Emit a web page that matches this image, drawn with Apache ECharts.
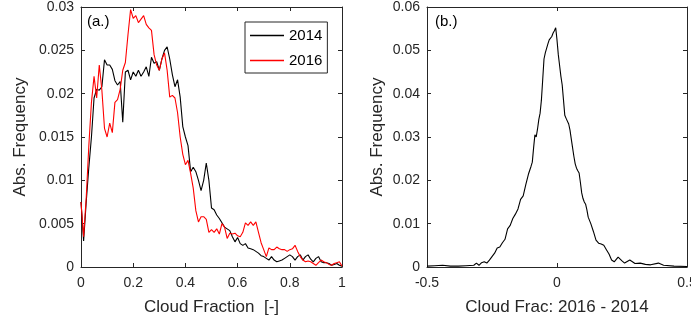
<!DOCTYPE html>
<html>
<head>
<meta charset="utf-8">
<script src="https://cdn.jsdelivr.net/npm/echarts@6/dist/echarts.min.js"></script>
<style>
  html, body { margin: 0; padding: 0; background: #fff; }
  #chart { width: 691px; height: 324px; }
</style>
</head>
<body>
<div id="chart"></div>
<script>
// panel (a.): histograms of cloud fraction, bins 0 .. 1 step 0.01
const fracBins = []
for (let k = 0; k <= 100; k++) fracBins.push(k / 100)

const freq2014 = [
	0.0075, 0.0030, 0.0075, 0.0115, 0.0150, 0.0195, 0.0205, 0.0204, 0.0208, 0.0239,
	0.0233, 0.0233, 0.0228, 0.0215, 0.0210, 0.0214, 0.0167, 0.0225, 0.0227, 0.0216,
	0.0225, 0.0220, 0.0227, 0.0220, 0.0225, 0.0231, 0.0220, 0.0242, 0.0235, 0.0237,
	0.0227, 0.0240, 0.0250, 0.0254, 0.0240, 0.0222, 0.0208, 0.0216, 0.0196, 0.0162,
	0.0150, 0.0140, 0.0110, 0.0115, 0.0110, 0.0100, 0.0088, 0.0100, 0.0120, 0.0100,
	0.0068, 0.0066, 0.0060, 0.0056, 0.0051, 0.0046, 0.0044, 0.0042, 0.0035, 0.0029,
	0.0034, 0.0027, 0.0025, 0.0027, 0.0022, 0.0021, 0.0020, 0.0018, 0.0016, 0.0013,
	0.0012, 0.0010, 0.0008, 0.0012, 0.0008, 0.0006, 0.0007, 0.0008, 0.0010, 0.0012,
	0.0014, 0.0012, 0.0008, 0.0012, 0.0014, 0.0008, 0.0012, 0.0014, 0.0009, 0.0006,
	0.0010, 0.0012, 0.0006, 0.0005, 0.0005, 0.0004, 0.0002, 0.0003, 0.0004, 0.0002,
	0.0001
]

const freq2016 = [
	0.0075, 0.0035, 0.0080, 0.0140, 0.0190, 0.0220, 0.0195, 0.0233, 0.0204, 0.0160,
	0.0150, 0.0166, 0.0155, 0.0190, 0.0193, 0.0205, 0.0227, 0.0236, 0.0268, 0.0297,
	0.0287, 0.0290, 0.0282, 0.0286, 0.0290, 0.0280, 0.0276, 0.0273, 0.0245, 0.0233,
	0.0227, 0.0240, 0.0247, 0.0227, 0.0196, 0.0198, 0.0195, 0.0178, 0.0150, 0.0130,
	0.0118, 0.0123, 0.0108, 0.0091, 0.0065, 0.0052, 0.0058, 0.0058, 0.0055, 0.0040,
	0.0043, 0.0040, 0.0044, 0.0038, 0.0050, 0.0046, 0.0033, 0.0039, 0.0038, 0.0039,
	0.0036, 0.0035, 0.0040, 0.0051, 0.0048, 0.0052, 0.0048, 0.0052, 0.0040, 0.0028,
	0.0020, 0.0012, 0.0022, 0.0020, 0.0020, 0.0023, 0.0021, 0.0020, 0.0020, 0.0018,
	0.0020, 0.0021, 0.0025, 0.0018, 0.0012, 0.0008, 0.0006, 0.0007, 0.0006, 0.0004,
	0.0002, 0.0005, 0.0008, 0.0006, 0.0005, 0.0003, 0.0002, 0.0004, 0.0005, 0.0006,
	0.0001
]

// panel (b.): difference 2016 - 2014
const diffBins = [
	-0.5, -0.47, -0.44, -0.41, -0.38, -0.35, -0.32, -0.31, -0.3, -0.29,
	-0.28, -0.27, -0.26, -0.25, -0.24, -0.23, -0.22, -0.21, -0.2, -0.19,
	-0.18, -0.17, -0.16, -0.15, -0.14, -0.13, -0.12, -0.11, -0.1, -0.095,
	-0.09, -0.085, -0.08, -0.075, -0.07, -0.065, -0.06, -0.055, -0.05, -0.045,
	-0.04, -0.035, -0.03, -0.025, -0.02, -0.015, -0.01, -0.005, 0, 0.005,
	0.01, 0.015, 0.02, 0.025, 0.03, 0.035, 0.04, 0.045, 0.05, 0.055,
	0.06, 0.065, 0.07, 0.075, 0.08, 0.085, 0.09, 0.095, 0.1, 0.105,
	0.11, 0.115, 0.12, 0.13, 0.14, 0.15, 0.16, 0.17, 0.18, 0.19,
	0.2, 0.21, 0.22, 0.235, 0.25, 0.26, 0.28, 0.3, 0.32, 0.34,
	0.36, 0.39, 0.41, 0.45, 0.5
]

const diffFreq = [
	0.0002, 0.0003, 0.0004, 0.0002, 0.0002, 0.0003, 0.0004, 0.0009, 0.0004, 0.0010,
	0.0012, 0.0009, 0.0016, 0.0024, 0.0032, 0.0044, 0.0046, 0.0056, 0.0064, 0.0088,
	0.0096, 0.0112, 0.0122, 0.0134, 0.0156, 0.0164, 0.0190, 0.0214, 0.0232, 0.0242,
	0.0275, 0.0305, 0.0300, 0.0318, 0.0340, 0.0355, 0.0385, 0.0432, 0.0480, 0.0494,
	0.0496, 0.0515, 0.0524, 0.0528, 0.0532, 0.0540, 0.0545, 0.0552, 0.0524, 0.0490,
	0.0465, 0.0440, 0.0420, 0.0385, 0.0350, 0.0343, 0.0344, 0.0330, 0.0316, 0.0295,
	0.0275, 0.0255, 0.0238, 0.0228, 0.0222, 0.0217, 0.0195, 0.0171, 0.0158, 0.0150,
	0.0145, 0.0132, 0.0115, 0.0100, 0.0082, 0.0062, 0.0055, 0.0053, 0.0050, 0.0040,
	0.0030, 0.0016, 0.0012, 0.0023, 0.0014, 0.0009, 0.0016, 0.0008, 0.0009, 0.0006,
	0.0005, 0.0009, 0.0004, 0.0002, 0.0001
]

const axisColor = '#262626'
const font = 'Liberation Sans, Arial, sans-serif'

const zip = (xs, ys) => xs.map((x, i) => [x, ys[i]])

// one visible axis plus a mirrored one for the box ticks
function xAxes(gridIndex, min, max, interval, name) {
	const base = {
		type: 'value',
		gridIndex,
		min,
		max,
		interval,
		splitLine: { show: false },
		axisLine: { show: true, onZero: false, lineStyle: { color: axisColor, width: 1 } },
		axisTick: { show: true, inside: true, length: 4, lineStyle: { color: axisColor } }
	}
	return [
		Object.assign({}, base, {
			position: 'bottom',
			name,
			nameLocation: 'middle',
			nameGap: 32,
			nameTextStyle: { fontFamily: font, fontSize: 17, color: axisColor },
			axisLabel: { fontFamily: font, fontSize: 14, color: axisColor, margin: 9 }
		}),
		Object.assign({}, base, { position: 'top', axisLabel: { show: false } })
	]
}

function yAxes(gridIndex, max, interval, gap) {
	const base = {
		type: 'value',
		gridIndex,
		min: 0,
		max,
		interval,
		splitLine: { show: false },
		axisLine: { show: true, onZero: false, lineStyle: { color: axisColor, width: 1 } },
		axisTick: { show: true, inside: true, length: 4, lineStyle: { color: axisColor } }
	}
	return [
		Object.assign({}, base, {
			position: 'left',
			name: 'Abs. Frequency',
			nameLocation: 'middle',
			nameGap: gap,
			nameTextStyle: { fontFamily: font, fontSize: 17, color: axisColor },
			axisLabel: { fontFamily: font, fontSize: 14, color: axisColor, margin: 7 }
		}),
		Object.assign({}, base, { position: 'right', axisLabel: { show: false } })
	]
}

const chart = echarts.init(document.getElementById('chart'))

chart.setOption({
	animation: false,
	backgroundColor: '#fff',
	grid: [
		{ left: 81, top: 7, width: 261, height: 260, outerBoundsMode: 'none' },
		{ left: 427, top: 7, width: 260, height: 260, outerBoundsMode: 'none' }
	],
	xAxis: [
		...xAxes(0, 0, 1, 0.2, 'Cloud Fraction  [-]'),
		...xAxes(1, -0.5, 0.5, 0.5, 'Cloud Frac: 2016 - 2014')
	],
	yAxis: [
		...yAxes(0, 0.03, 0.005, 52),
		...yAxes(1, 0.06, 0.01, 41)
	],
	legend: {
		data: [
			{ name: '2014', icon: 'rect', itemStyle: { color: '#000' } },
			{ name: '2016', icon: 'rect', itemStyle: { color: '#ff0000' } }
		],
		orient: 'vertical',
		left: 245,
		top: 22,
		itemWidth: 34,
		itemHeight: 1.5,
		itemGap: 10,
		padding: [6, 5, 5, 5],
		borderColor: axisColor,
		borderWidth: 1,
		borderRadius: 0,
		backgroundColor: '#fff',
		textStyle: { fontFamily: font, fontSize: 15, color: '#000' }
	},
	graphic: [
		{ type: 'text', left: 87, top: 14, style: { text: '(a.)', font: '15px ' + font, fill: '#000' } },
		{ type: 'text', left: 435, top: 14, style: { text: '(b.)', font: '15px ' + font, fill: '#000' } }
	],
	series: [
		{
			name: '2014',
			type: 'line',
			xAxisIndex: 0,
			yAxisIndex: 0,
			symbol: 'none',
			lineStyle: { color: '#000', width: 1.1 },
			itemStyle: { color: '#000' },
			data: zip(fracBins, freq2014)
		},
		{
			name: '2016',
			type: 'line',
			xAxisIndex: 0,
			yAxisIndex: 0,
			symbol: 'none',
			lineStyle: { color: '#ff0000', width: 1.1 },
			itemStyle: { color: '#ff0000' },
			data: zip(fracBins, freq2016)
		},
		{
			name: 'diff',
			type: 'line',
			xAxisIndex: 2,
			yAxisIndex: 2,
			symbol: 'none',
			lineStyle: { color: '#000', width: 1.1 },
			itemStyle: { color: '#000' },
			data: zip(diffBins, diffFreq)
		}
	]
})
</script>
</body>
</html>
